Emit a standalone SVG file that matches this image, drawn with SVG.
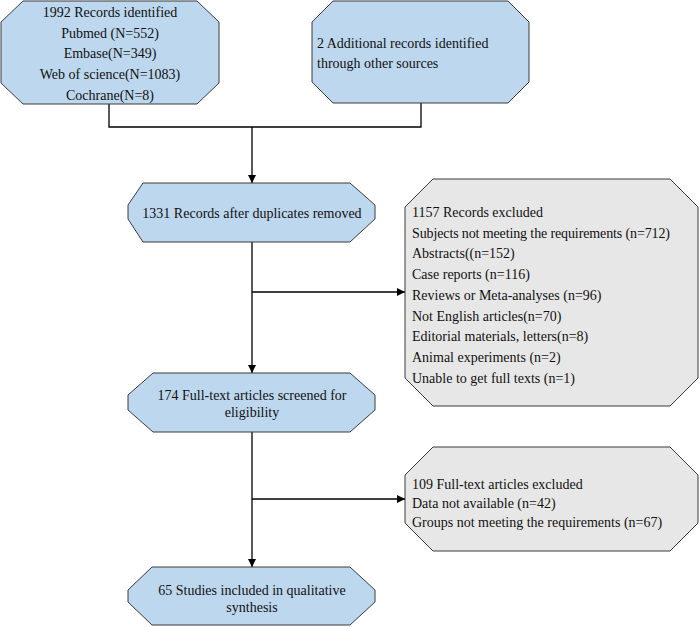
<svg xmlns="http://www.w3.org/2000/svg" width="700" height="627" viewBox="0 0 700 627">
<style>
.blue{fill:#bdd7ee;stroke:#3a3a3a;stroke-width:1}
.grey{fill:#e7e7e7;stroke:#3a3a3a;stroke-width:1}
text{font-family:'Liberation Serif','DejaVu Serif',serif;font-size:14px;fill:#111}
.c{text-anchor:middle}
.ln{fill:none;stroke:#000;stroke-width:1.3}
</style>
<defs>
<marker id="ah" viewBox="0 0 10 10" refX="10" refY="5" markerWidth="8" markerHeight="8" markerUnits="userSpaceOnUse" orient="auto">
<path d="M0,0 L10,5 L0,10 Z" fill="#000"/>
</marker>
</defs>
<rect width="700" height="627" fill="#fff"/>
<g id="connectors">
<polyline class="ln" points="109,104 109,127 421,127 421,103"/>
<line class="ln" x1="252" y1="127" x2="252" y2="183" marker-end="url(#ah)"/>
<line class="ln" x1="252" y1="242" x2="252" y2="373" marker-end="url(#ah)"/>
<line class="ln" x1="252" y1="292" x2="405" y2="292" marker-end="url(#ah)"/>
<line class="ln" x1="252" y1="432" x2="252" y2="567" marker-end="url(#ah)"/>
<line class="ln" x1="252" y1="499" x2="405" y2="499" marker-end="url(#ah)"/>
</g>
<g id="identified">
<polygon class="blue" points="23,1 197,1 219,22 219,83 197,104 23,104 1,83 1,22"/>
<text class="c" x="110" y="17">1992 Records identified</text>
<text class="c" x="110" y="38">Pubmed (N=552)</text>
<text class="c" x="110" y="58">Embase(N=349)</text>
<text class="c" x="110" y="79">Web of science(N=1083)</text>
<text class="c" x="110" y="100">Cochrane(N=8)</text>
</g>
<g id="additional">
<polygon class="blue" points="333,1 508,1 529,22 529,82 508,103 333,103 312,82 312,22"/>
<text x="317" y="48">2 Additional records identified</text>
<text x="317" y="68">through other sources</text>
</g>
<g id="duplicates">
<polygon class="blue" points="143,183 350,183 375,205 375,219 350,242 143,242 128,219 128,205"/>
<text class="c" x="252" y="218">1331 Records after duplicates removed</text>
</g>
<g id="excluded1">
<polygon class="grey" points="433,179 670,179 698,207 698,378 670,406 433,406 405,378 405,207"/>
<text x="412" y="217">1157 Records excluded</text>
<text x="412" y="237.7" textLength="258" lengthAdjust="spacing">Subjects not meeting the requirements (n=712)</text>
<text x="412" y="258.4">Abstracts((n=152)</text>
<text x="412" y="279.1">Case reports (n=116)</text>
<text x="412" y="299.8">Reviews or Meta-analyses (n=96)</text>
<text x="412" y="320.5">Not English articles(n=70)</text>
<text x="412" y="341.2">Editorial materials, letters(n=8)</text>
<text x="412" y="361.9">Animal experiments (n=2)</text>
<text x="412" y="382.6">Unable to get full texts (n=1)</text>
</g>
<g id="fulltext">
<polygon class="blue" points="153,373 350,373 375,395 375,410 350,432 153,432 128,410 128,395"/>
<text class="c" x="252" y="400">174 Full-text articles screened for</text>
<text class="c" x="252" y="417">eligibility</text>
</g>
<g id="excluded2">
<polygon class="grey" points="433,447 670,447 698,475 698,523 670,551 433,551 405,523 405,475"/>
<text x="412" y="489">109 Full-text articles excluded</text>
<text x="412" y="508">Data not available (n=42)</text>
<text x="412" y="527">Groups not meeting the requirements (n=67)</text>
</g>
<g id="included">
<polygon class="blue" points="152,567 350,567 375,590 375,602 350,625 152,625 128,602 128,590"/>
<text class="c" x="252" y="595">65 Studies included in qualitative</text>
<text class="c" x="252" y="612">synthesis</text>
</g>
</svg>
